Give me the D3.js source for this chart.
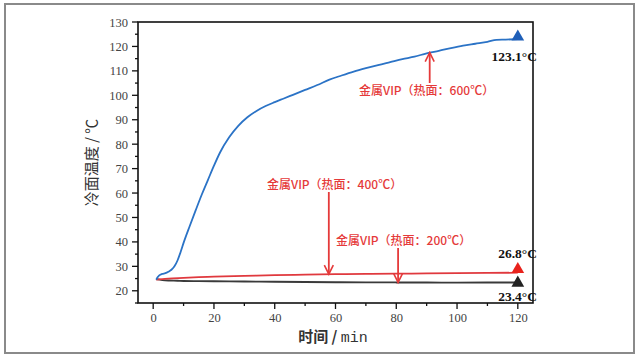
<!DOCTYPE html>
<html><head><meta charset="utf-8">
<script src="https://cdn.jsdelivr.net/npm/d3@7"></script>
<style>body{margin:0;background:#fff}svg{display:block}</style>
</head><body>
<script>
// Data
const blueX = [1,1.5,2,3,4,5,6,7,8,9,10,12,14,16,18,20,22,25,28,31,34,37,40,43,46,50,54,58,62,66,70,74,78,82,86,90,94,98,102,106,110,113,116,120];
const blueY = [24.5,25.6,26.3,26.9,27.2,27.8,28.6,30.0,32.4,35.8,39.6,46.4,53,59.4,65.3,71.2,76.6,82.8,87.5,91.0,93.6,95.6,97.2,98.7,100.2,102.2,104.2,106.4,108.1,109.7,111.1,112.4,113.6,114.8,115.8,117.2,118.2,119.3,120.3,121.1,121.9,122.7,122.8,123.0];
const redX = [1,3,5,10,15,20,30,40,50,60,70,80,90,100,110,120];
const redY = [24.6,24.8,25.0,25.3,25.6,25.8,26.1,26.4,26.6,26.8,26.9,27.0,27.1,27.2,27.3,27.4];
const blackX = [1,3,5,8,10,15,20,30,40,50,60,70,80,90,100,110,120];
const blackY = [24.8,24.4,24.2,24.1,24.0,23.95,23.9,23.8,23.7,23.6,23.5,23.45,23.4,23.4,23.35,23.4,23.4];
const xTicks = [0,20,40,60,80,100,120];
const yTicks = [20,30,40,50,60,70,80,90,100,110,120,130];
const endMarkers = [{v:123.9,c:"#1f5fb8",label:"123.1°C",ly:19},{v:28.8,c:"#e8221c",label:"26.8°C",ly:-16},{v:23.2,c:"#222",label:"23.4°C",ly:13}];
const notes = [
  {text:"金属VIP（热面：600℃）", tx:359, ty:91, ax:91, from:"below", y1:117.5},
  {text:"金属VIP（热面：400℃）", tx:267, ty:185, ax:57.8, from:"above", y1:26.8},
  {text:"金属VIP（热面：200℃）", tx:336, ty:241, ax:80.6, from:"above", y1:23.4}
];

const W=638,H=354;
const svg=d3.select("body").append("svg").attr("width",W).attr("height",H);
svg.append("rect").attr("x",5).attr("y",4).attr("width",629).attr("height",349)
  .attr("fill","none").attr("stroke","#8a8a8a").attr("stroke-width",2);

const L=138,R=533,T=22,B=303;
const x=d3.scaleLinear().domain([-5,125]).range([L,R]);
const y=d3.scaleLinear().domain([15,130]).range([B,T]);

const g=svg.append("g");
const serif="'Liberation Serif','DejaVu Serif',serif";
d3.range(15,131,5).forEach(v=>{
  g.append("line").attr("x1",L).attr("x2",L-(v%10===0?6:3)).attr("y1",y(v)).attr("y2",y(v)).attr("stroke","#111").attr("stroke-width",1.3);
});
d3.range(0,121,10).forEach(v=>{
  g.append("line").attr("y1",B).attr("y2",B+(v%20===0?6:3)).attr("x1",x(v)).attr("x2",x(v)).attr("stroke","#111").attr("stroke-width",1.3);
});
const xAxis=svg.append("g").attr("transform",`translate(0,${B})`).call(d3.axisBottom(x).tickValues(xTicks).tickSize(0).tickPadding(10));
const yAxis=svg.append("g").attr("transform",`translate(${L},0)`).call(d3.axisLeft(y).tickValues(yTicks).tickSize(0).tickPadding(10));
[xAxis,yAxis].forEach(a=>{a.select(".domain").remove();a.selectAll("text").attr("font-family",serif).attr("font-size",12.5).attr("fill","#444");});
svg.append("rect").attr("x",L).attr("y",T).attr("width",R-L).attr("height",B-T).attr("fill","none").attr("stroke","#111").attr("stroke-width",1.6);

const line=d3.line().curve(d3.curveMonotoneX).x(d=>x(d[0])).y(d=>y(d[1]));
const series=[[blackX,blackY,"#3a3a3a"],[redX,redY,"#e0393e"],[blueX,blueY,"#2b73c6"]];
series.forEach(([xs,ys,c])=>{
  svg.append("path").datum(xs.map((v,i)=>[v,ys[i]])).attr("d",line).attr("fill","none").attr("stroke",c).attr("stroke-width",1.8);
});

const tri=d3.symbol().type(d3.symbolTriangle).size(70);
endMarkers.forEach(m=>{
  svg.append("path").attr("d",tri).attr("transform",`translate(${x(120)},${y(m.v)})`).attr("fill",m.c);
  svg.append("text").attr("x",R+4).attr("y",y(m.v)+m.ly).attr("dy","0.35em").attr("text-anchor","end")
    .attr("font-family",serif).attr("font-weight","bold").attr("font-size",13.5).attr("fill","#111").text(m.label);
});

const red="#e53a3a";
notes.forEach(n=>{
  svg.append("text").attr("x",n.tx).attr("y",n.ty).attr("dy","0.35em")
    .attr("font-family","'Noto Sans CJK SC','Noto Sans',sans-serif").attr("font-size",12).attr("font-weight",500).attr("fill",red).text(n.text);
  const ax=x(n.ax), tip=y(n.y1);
  const start = n.from==="below" ? n.ty-8 : n.ty+7;
  const dir = n.from==="below" ? 1 : -1;
  svg.append("line").attr("x1",ax).attr("x2",ax).attr("y1",start).attr("y2",tip).attr("stroke",red).attr("stroke-width",1.8);
  svg.append("path").attr("d",`M${ax-4.5},${tip+dir*9}L${ax},${tip}L${ax+4.5},${tip+dir*9}`).attr("fill","none").attr("stroke",red).attr("stroke-width",1.6);
});

svg.append("text").attr("transform",`translate(92,${(T+B)/2}) rotate(-90)`).attr("text-anchor","middle").attr("dy","0.35em")
  .attr("font-family","'Noto Sans CJK SC',sans-serif").attr("font-size",15).attr("fill","#333").text("冷面温度 / ℃");
const xt=svg.append("text").attr("x",333).attr("y",337).attr("text-anchor","middle").attr("dy","0.35em").attr("font-size",15).attr("fill","#333");
xt.append("tspan").attr("font-family","'Noto Sans CJK SC',sans-serif").attr("font-weight","bold").text("时间 / ");
xt.append("tspan").attr("font-family","'Liberation Mono',monospace").text("min");
</script>
</body></html>
